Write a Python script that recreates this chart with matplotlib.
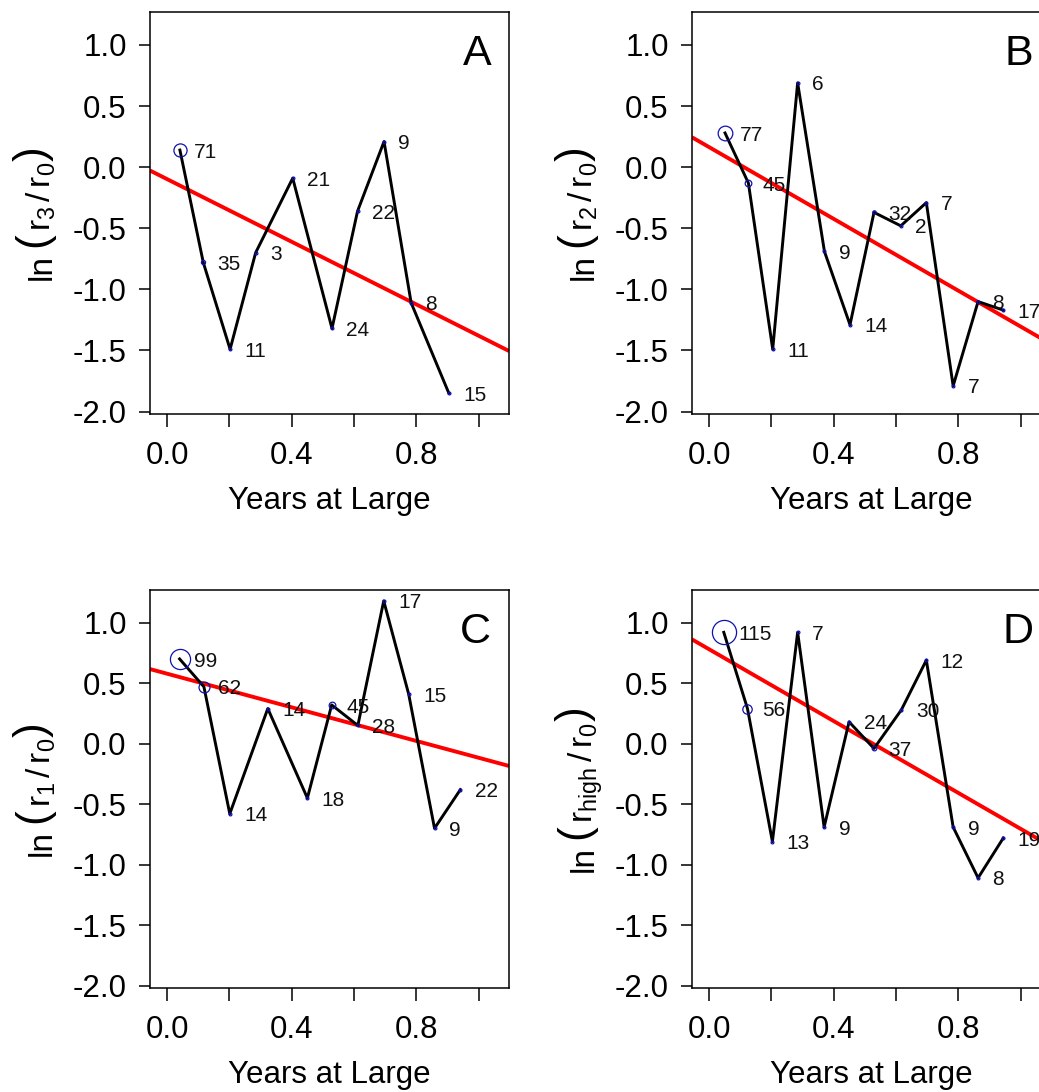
import matplotlib
matplotlib.use("Agg")
import matplotlib.pyplot as plt
import numpy as np

plt.rcParams["font.family"] = ["Liberation Sans", "DejaVu Sans"]
plt.rcParams["mathtext.fontset"] = "custom"
plt.rcParams["mathtext.rm"] = "Liberation Sans"
plt.rcParams["mathtext.it"] = "Liberation Sans:italic"

# Panel A: ln(r3/r0)
a_x = [0.041, 0.116, 0.202, 0.284, 0.403, 0.529, 0.611, 0.696, 0.783, 0.904]
a_y = [0.14, -0.78, -1.49, -0.70, -0.09, -1.32, -0.36, 0.21, -1.11, -1.85]
a_n = [71, 35, 11, 3, 21, 24, 22, 9, 8, 15]
a_fit = (-0.098, -1.282)  # intercept, slope

# Panel B: ln(r2/r0)
b_x = [0.051, 0.126, 0.204, 0.284, 0.370, 0.452, 0.529, 0.615, 0.697, 0.783, 0.863, 0.944]
b_y = [0.28, -0.13, -1.49, 0.69, -0.69, -1.29, -0.37, -0.48, -0.29, -1.79, -1.10, -1.17]
b_n = [77, 45, 11, 6, 9, 14, 32, 2, 7, 7, 8, 17]
b_fit = (0.164, -1.469)

# Panel C: ln(r1/r0)
c_x = [0.040, 0.118, 0.201, 0.323, 0.450, 0.528, 0.612, 0.695, 0.775, 0.858, 0.941]
c_y = [0.70, 0.47, -0.58, 0.29, -0.45, 0.32, 0.15, 1.18, 0.41, -0.70, -0.38]
c_n = [99, 62, 14, 14, 18, 45, 28, 17, 15, 9, 22]
c_fit = (0.578, -0.695)

# Panel D: ln(r_high/r0)
d_x = [0.047, 0.123, 0.203, 0.284, 0.369, 0.449, 0.529, 0.617, 0.697, 0.783, 0.863, 0.944]
d_y = [0.92, 0.29, -0.81, 0.92, -0.69, 0.18, -0.04, 0.28, 0.69, -0.69, -1.11, -0.78]
d_n = [115, 56, 13, 7, 9, 24, 37, 30, 12, 9, 8, 19]
d_fit = (0.78, -1.485)

x_ticks = [0.0, 0.2, 0.4, 0.6, 0.8, 1.0]
x_ticklabels = ["0.0", "", "0.4", "", "0.8", ""]
y_ticks = [1.0, 0.5, 0.0, -0.5, -1.0, -1.5, -2.0]
y_ticklabels = ["1.0", "0.5", "0.0", "-0.5", "-1.0", "-1.5", "-2.0"]

panels = [
    ("A", a_x, a_y, a_n, a_fit, r"$\mathrm{r}_{3}\,/\,\mathrm{r}_{0}$"),
    ("B", b_x, b_y, b_n, b_fit, r"$\mathrm{r}_{2}\,/\,\mathrm{r}_{0}$"),
    ("C", c_x, c_y, c_n, c_fit, r"$\mathrm{r}_{1}\,/\,\mathrm{r}_{0}$"),
    ("D", d_x, d_y, d_n, d_fit, r"$\mathrm{r}_{\mathrm{high}}\,/\,\mathrm{r}_{0}$"),
]

W, H = 1039, 1092
fig = plt.figure(figsize=(W / 100, H / 100), dpi=100)
renderer = fig.canvas.get_renderer()

# axes boxes in pixels: left, top, width, height
boxes = {
    "A": (150, 12, 359, 402),
    "B": (692, 12, 359, 402),
    "C": (150, 590, 359, 398),
    "D": (692, 590, 359, 398),
}
xlim = (-0.055, 1.097)
ylim = (-2.02, 1.27)


def vertical_label(pieces, x_base, y_mid):
    """Stack rotated text pieces bottom-to-top, centred on y_mid (pixels)."""
    items = []
    total = 0.0
    for s, size, lift, gap in pieces:
        t = fig.text(0, 0, s, rotation=90, rotation_mode="anchor",
                     ha="left", va="baseline", fontsize=size)
        length = t.get_window_extent(renderer).height
        items.append((t, length, lift, gap))
        total += gap + length
    y = y_mid - total / 2.0
    for t, length, lift, gap in items:
        y += gap
        t.set_position(((x_base - lift) / W, y / H))
        y += length


for letter, xs, ys, ns, fit, ratio in panels:
    l, t, w, h = boxes[letter]
    ax = fig.add_axes([l / W, (H - t - h) / H, w / W, h / H])
    ax.set_xlim(*xlim)
    ax.set_ylim(*ylim)

    # fitted trend line
    xf = np.array(xlim)
    ax.plot(xf, fit[0] + fit[1] * xf, color="#ff0000", lw=2.8, zorder=2,
            solid_capstyle="butt")

    # connecting line
    ax.plot(xs, ys, color="black", lw=2.1, zorder=3)

    # sample-size circles and counts
    for x, y, n in zip(xs, ys, ns):
        d = max(0.25 * n - 4.6, 2.8)
        ax.plot([x], [y], marker="o", markersize=d * 0.72, markerfacecolor="none",
                markeredgecolor="#1010b0", markeredgewidth=0.9, zorder=4)
        ax.annotate(str(n), (x, y), xytext=(10.4, -1.5), textcoords="offset points",
                    ha="left", va="center", fontsize=15, color="#111111", zorder=5)

    ax.text(0.95, 0.945, letter, transform=ax.transAxes, ha="right", va="top",
            fontsize=31, color="black")

    ax.set_xticks(x_ticks)
    ax.set_xticklabels(x_ticklabels)
    ax.set_yticks(y_ticks)
    ax.set_yticklabels(y_ticklabels)
    ax.tick_params(axis="x", length=9.5, width=1.1, pad=10, labelsize=22.5)
    ax.tick_params(axis="y", length=7.8, width=1.1, pad=9, labelsize=22.5)
    for s in ax.spines.values():
        s.set_linewidth(1.1)

    ax.set_xlabel("Years at Large", fontsize=22.5)
    ax.xaxis.set_label_coords(0.5, -0.18)

    # y label: ln followed by tall parentheses around the ratio
    y_mid = H - (t + h / 2.0)
    vertical_label([
        ("ln", 24, 0, 0),
        ("(", 32, 6, 7),
        (ratio, 24, 0, 1),
        (")", 32, 6, 1),
    ], l - 99, y_mid)

fig.savefig("out.png", dpi=100)
